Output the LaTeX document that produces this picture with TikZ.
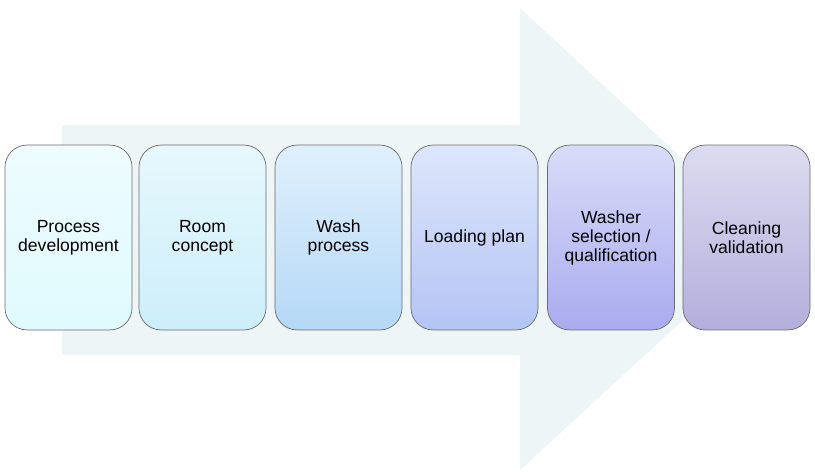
\documentclass[tikz,border=0pt]{standalone}
\usepackage{fontspec}
\setmainfont{Liberation Sans}
\usetikzlibrary{shadings}

\definecolor{arrowfill}{HTML}{EEF5F7}
\tikzset{
    stepbox/.style={draw=gray!85!black, rounded corners=5.5mm, minimum width=3.175cm,
        minimum height=4.62cm, align=center, font=\fontsize{12.5}{13.5}\selectfont, line width=0.5pt}
}

\begin{document}
\begin{tikzpicture}[x=0.025cm, y=-0.025cm]
    \useasboundingbox (0,0) rectangle (815,473);

    % 背景箭头
    \fill[arrowfill]
        (62,125) -- (520,125) -- (520,8) -- (770,240) -- (520,470) -- (520,355) -- (62,355) -- cycle;

    % 颜色
    \definecolor{t1}{HTML}{EEFCFE}\definecolor{u1}{HTML}{E0FAFE}
    \definecolor{t2}{HTML}{E6F8FD}\definecolor{u2}{HTML}{CDEEFA}
    \definecolor{t3}{HTML}{DFF0FC}\definecolor{u3}{HTML}{B5D8F7}
    \definecolor{t4}{HTML}{DDE6FB}\definecolor{u4}{HTML}{B4C4F4}
    \definecolor{t5}{HTML}{D9DCF8}\definecolor{u5}{HTML}{A9ABEF}
    \definecolor{t6}{HTML}{DCDCF0}\definecolor{u6}{HTML}{B4AEDC}

    % 步骤方框
    \foreach \i/\x/\txt in {1/68.5/{Process\\development}, 2/202.5/{Room\\concept},
        3/338.5/{Wash\\process}, 4/474.5/{Loading plan},
        5/611/{Washer\\selection /\\qualification}, 6/746.5/{Cleaning\\validation}}
        \node[stepbox, top color=t\i, bottom color=u\i] (b\i) at (\x,237.5) {\txt};

\end{tikzpicture}
\end{document}
